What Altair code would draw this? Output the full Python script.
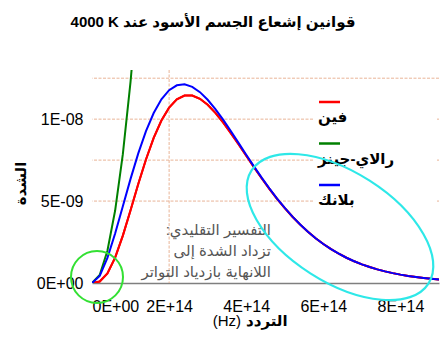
import altair as alt
import pandas as pd

# ---------------- data ----------------
freq_hz = [0, 2e13, 4e13, 6e13, 8e13, 1e14, 1.2e14, 1.4e14, 1.6e14, 1.8e14,
           2e14, 2.2e14, 2.4e14, 2.6e14, 2.8e14, 3e14, 3.2e14, 3.4e14, 3.6e14, 3.8e14,
           4e14, 4.2e14, 4.4e14, 4.6e14, 4.8e14, 5e14, 5.2e14, 5.4e14, 5.6e14, 5.8e14,
           6e14, 6.2e14, 6.4e14, 6.6e14, 6.8e14, 7e14, 7.2e14, 7.4e14, 7.6e14, 7.8e14,
           8e14, 8.2e14, 8.4e14, 8.6e14, 8.8e14, 9e14]
# intensities in units of 1E-09
wien_e9 = [0, 0.093, 0.584, 1.550, 2.891, 4.441, 6.037, 7.541, 8.854, 9.917,
           10.701, 11.204, 11.442, 11.444, 11.243, 10.878, 10.385, 9.799, 9.150, 8.465,
           7.766, 7.072, 6.396, 5.749, 5.138, 4.569, 4.043, 3.561, 3.124, 2.731,
           2.378, 2.064, 1.786, 1.541, 1.325, 1.137, 0.974, 0.831, 0.709, 0.603,
           0.511, 0.433, 0.366, 0.309, 0.261, 0.219]
planck_e9 = [0, 0.435, 1.532, 3.021, 4.684, 6.355, 7.911, 9.268, 10.376, 11.210,
             11.769, 12.065, 12.123, 11.972, 11.648, 11.184, 10.613, 9.967, 9.273, 8.554,
             7.831, 7.118, 6.429, 5.772, 5.155, 4.580, 4.050, 3.567, 3.128, 2.733,
             2.380, 2.065, 1.787, 1.541, 1.326, 1.138, 0.974, 0.832, 0.709, 0.603,
             0.511, 0.433, 0.366, 0.309, 0.261, 0.219]
rj_freq_hz = [0, 2e13, 4e13, 6e13, 8e13, 1e14, 1.2e14]
rj_e9 = [0, 0.492, 1.966, 4.424, 7.865, 12.290, 17.697]

series_names = ["فين", "رالاي-جينز", "بلانك"]
series_colors = ["#FF0000", "#008000", "#0000FF"]

x_tick_values = [0, 2e14, 4e14, 6e14, 8e14]
y_tick_values = [0, 5e-9, 1e-8]
x_grid_values = [2e14]
y_grid_values = [5e-9, 7.5e-9, 1e-8, 1.25e-8]

title_text = "4000 K قوانين إشعاع الجسم الأسود عند"
x_title_unit = "(Hz)"
x_title_word = "التردد"
y_title_text = "الشدة"
note_lines = [":التفسير التقليدي", "تزداد الشدة إلى", "اللانهاية بازدياد التواتر"]

# ---------------- tables ----------------
wien_df = pd.DataFrame({"f": freq_hz, "v": [v * 1e-9 for v in wien_e9]})
planck_df = pd.DataFrame({"f": freq_hz, "v": [v * 1e-9 for v in planck_e9]})
rj_df = pd.DataFrame({"f": rj_freq_hz, "v": [v * 1e-9 for v in rj_e9]})

FONT = "Liberation Sans, DejaVu Sans"
GRID = "#E9B497"

xs = alt.Scale(domain=[0, 9e14], nice=False, zero=False)
ys = alt.Scale(domain=[0, 1.3e-8], nice=False, zero=False)

x_axis = alt.Axis(values=x_tick_values, grid=False, ticks=False, domain=True,
                  domainColor="#7f7f7f", domainWidth=1.5, labelFont=FONT,
                  labelFontSize=16, labelColor="#000000", labelPadding=15,
                  labelExpr="datum.value == 0 ? '0E+00' : replace(format(datum.value, '.0e'), 'e', 'E')",
                  title=None)
y_axis = alt.Axis(values=y_tick_values, grid=False, ticks=False, domain=False,
                  labelFont=FONT, labelFontSize=16, labelColor="#000000",
                  labelPadding=9,
                  labelExpr="datum.value == 0 ? '0E+00' : replace(format(datum.value, '.0e'), 'e-', 'E-0')",
                  title=y_title_text, titleFont=FONT, titleFontSize=15,
                  titleFontWeight="bold", titleColor="#000000", titleAngle=270,
                  titleX=-72, titleY=113, titleAlign="center", titleBaseline="middle")

X = lambda: alt.X("f:Q", scale=xs, axis=x_axis)
Y = lambda: alt.Y("v:Q", scale=ys, axis=y_axis)


def one(text):
    return pd.DataFrame({"t": [text]})


# curves (the red layer carries the axes)
red = alt.Chart(wien_df).mark_line(color=series_colors[0], strokeWidth=2, clip=True).encode(
    x=X(), y=Y())
green = alt.Chart(rj_df).mark_line(color=series_colors[1], strokeWidth=2, clip=True).encode(
    x=X(), y=Y())
blue = alt.Chart(planck_df).mark_line(color=series_colors[2], strokeWidth=2, clip=True).encode(
    x=X(), y=Y())

# gridlines
hgrid = alt.Chart(pd.DataFrame({"v": y_grid_values})).mark_rule(
    color=GRID, strokeWidth=1, strokeDash=[3, 1.5]).encode(y=Y())
vgrid = alt.Chart(pd.DataFrame({"f": x_grid_values})).mark_rule(
    color=GRID, strokeWidth=1, strokeDash=[3, 1.5]).encode(x=X())

layers = [red, hgrid, vgrid, red, green, blue]

# annotation text
for k, line in enumerate(note_lines):
    layers.append(alt.Chart(one(line)).mark_text(
        font=FONT, fontSize=15, color="#555555", align="right", baseline="middle").encode(
        text="t:N", x=alt.value(179), y=alt.value(160 + 21 * k)))

# legend box and entries
layers.append(alt.Chart(one("box")).mark_rect(fill="white").encode(
    x=alt.value(221), x2=alt.value(345), y=alt.value(20), y2=alt.value(139)))
for k, (name, col) in enumerate(zip(series_names, series_colors)):
    ly = 32 + 41.5 * k
    layers.append(alt.Chart(one(name)).mark_rule(color=col, strokeWidth=2.5).encode(
        x=alt.value(227), x2=alt.value(248), y=alt.value(ly)))
    layers.append(alt.Chart(one(name)).mark_text(
        font=FONT, fontSize=15, fontWeight="bold", color="#000000",
        align="left", baseline="middle").encode(
        text="t:N", x=alt.value(226), y=alt.value(ly + 15)))

# hand-drawn highlight shapes
layers.append(alt.Chart(one("circle")).mark_point(
    shape="circle", size=2704, filled=False, stroke="#33E033", strokeWidth=2,
    opacity=1).encode(x=alt.value(5), y=alt.value(207)))
layers.append(alt.Chart(one("ellipse")).mark_point(
    shape="M-1,0A1,0.524,0,1,1,1,0A1,0.524,0,1,1,-1,0Z", size=44100, angle=32.6,
    filled=False, stroke="#2EE8E8", strokeWidth=2.2, opacity=1).encode(
    x=alt.value(248), y=alt.value(157)))

# title and x-axis title
layers.append(alt.Chart(one(title_text)).mark_text(
    font=FONT, fontSize=15, fontWeight="bold", color="#000000",
    align="center", baseline="middle").encode(
    text="t:N", x=alt.value(121), y=alt.value(-48)))
layers.append(alt.Chart(one(x_title_unit)).mark_text(
    font=FONT, fontSize=15, color="#000000", align="right", baseline="middle").encode(
    text="t:N", x=alt.value(149), y=alt.value(251)))
layers.append(alt.Chart(one(x_title_word)).mark_text(
    font=FONT, fontSize=15, fontWeight="bold", color="#000000",
    align="left", baseline="middle").encode(
    text="t:N", x=alt.value(154), y=alt.value(251)))

chart = alt.layer(*layers).properties(
    width=347, height=213,
    autosize=alt.AutoSizeParams(type="none"),
    padding={"left": 84, "top": 62, "right": 1, "bottom": 48},
    background="white",
).configure_view(stroke=None)

chart.save("out.html", embed_options={"renderer": "svg", "actions": False})
